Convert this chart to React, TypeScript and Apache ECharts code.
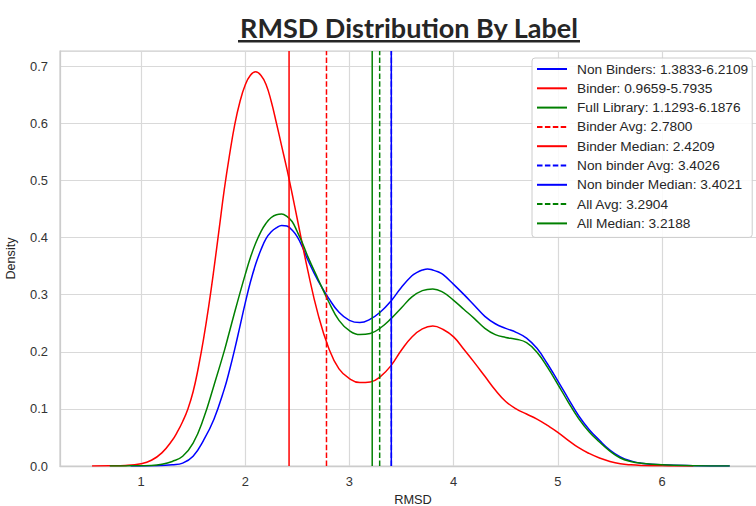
import { useEffect, useRef } from "react";
import * as echarts from "echarts";

// KDE curves of RMSD per label (x = RMSD, y = density)
const nonBinderX = [0.9, 1.1, 1.2, 1.3, 1.4, 1.5, 1.6, 1.7, 1.8, 1.85, 1.9, 1.95, 2.0, 2.05, 2.1, 2.15, 2.2, 2.25, 2.3, 2.35, 2.4, 2.45, 2.5, 2.55, 2.6, 2.7, 2.8, 2.9, 3.0, 3.1, 3.2, 3.3, 3.4, 3.5, 3.6, 3.65, 3.7, 3.75, 3.8, 3.85, 3.9, 4.0, 4.1, 4.2, 4.3, 4.4, 4.5, 4.6, 4.7, 4.8, 4.9, 5.0, 5.1, 5.2, 5.3, 5.4, 5.5, 5.6, 5.7, 5.8, 6.0, 6.3, 6.65];
const nonBinderY = [0, 0.0004, 0.001, 0.002, 0.005, 0.017, 0.045, 0.082, 0.135, 0.168, 0.205, 0.245, 0.285, 0.322, 0.353, 0.378, 0.398, 0.41, 0.417, 0.421, 0.42, 0.413, 0.401, 0.383, 0.361, 0.324, 0.294, 0.269, 0.255, 0.251, 0.257, 0.27, 0.289, 0.313, 0.333, 0.339, 0.343, 0.345, 0.343, 0.34, 0.335, 0.318, 0.3, 0.281, 0.262, 0.249, 0.241, 0.234, 0.224, 0.206, 0.179, 0.149, 0.118, 0.088, 0.064, 0.045, 0.028, 0.016, 0.009, 0.005, 0.002, 0.0005, 0];

const binderX = [0.53, 0.7, 0.85, 1.0, 1.1, 1.2, 1.3, 1.35, 1.4, 1.45, 1.5, 1.55, 1.6, 1.65, 1.7, 1.75, 1.8, 1.85, 1.9, 1.95, 2.0, 2.05, 2.1, 2.15, 2.2, 2.25, 2.3, 2.35, 2.4, 2.45, 2.5, 2.6, 2.7, 2.8, 2.9, 3.0, 3.1, 3.2, 3.3, 3.4, 3.5, 3.6, 3.7, 3.8, 3.9, 4.0, 4.1, 4.2, 4.3, 4.4, 4.5, 4.6, 4.7, 4.8, 4.9, 5.0, 5.1, 5.2, 5.3, 5.4, 5.5, 5.6, 5.7, 5.8, 6.0, 6.3];
const binderY = [0, 0.0003, 0.001, 0.004, 0.01, 0.023, 0.045, 0.06, 0.078, 0.1, 0.13, 0.172, 0.222, 0.28, 0.345, 0.415, 0.485, 0.545, 0.598, 0.638, 0.667, 0.684, 0.69, 0.684, 0.668, 0.638, 0.6, 0.56, 0.52, 0.477, 0.432, 0.343, 0.265, 0.207, 0.17, 0.153, 0.146, 0.147, 0.157, 0.176, 0.203, 0.226, 0.24, 0.245, 0.239, 0.226, 0.204, 0.181, 0.157, 0.133, 0.113, 0.1, 0.091, 0.082, 0.071, 0.059, 0.045, 0.032, 0.022, 0.014, 0.008, 0.004, 0.002, 0.001, 0.0003, 0];

const libraryX = [0.7, 0.9, 1.1, 1.2, 1.3, 1.4, 1.5, 1.6, 1.7, 1.8, 1.85, 1.9, 1.95, 2.0, 2.05, 2.1, 2.15, 2.2, 2.25, 2.3, 2.35, 2.4, 2.45, 2.5, 2.55, 2.6, 2.7, 2.8, 2.9, 3.0, 3.1, 3.2, 3.3, 3.4, 3.5, 3.6, 3.7, 3.8, 3.9, 4.0, 4.1, 4.2, 4.3, 4.4, 4.5, 4.6, 4.7, 4.8, 4.9, 5.0, 5.1, 5.2, 5.3, 5.4, 5.5, 5.6, 5.7, 5.8, 6.0, 6.3, 6.65];
const libraryY = [0, 0.0003, 0.001, 0.003, 0.008, 0.017, 0.04, 0.083, 0.141, 0.202, 0.236, 0.27, 0.303, 0.335, 0.365, 0.39, 0.41, 0.425, 0.435, 0.44, 0.441, 0.437, 0.428, 0.41, 0.39, 0.367, 0.327, 0.288, 0.255, 0.237, 0.23, 0.232, 0.242, 0.258, 0.277, 0.296, 0.307, 0.31, 0.304, 0.29, 0.274, 0.258, 0.241, 0.23, 0.225, 0.222, 0.216, 0.199, 0.173, 0.143, 0.112, 0.083, 0.06, 0.042, 0.026, 0.014, 0.008, 0.005, 0.002, 0.0005, 0];

// Summary statistics
const binderAvg = 2.78;
const binderMedian = 2.4209;
const nonBinderAvg = 3.4026;
const nonBinderMedian = 3.4021;
const allAvg = 3.2904;
const allMedian = 3.2188;

const legendNames = [
  "Non Binders: 1.3833-6.2109",
  "Binder: 0.9659-5.7935",
  "Full Library: 1.1293-6.1876",
  "Binder Avg: 2.7800",
  "Binder Median: 2.4209",
  "Non binder Avg: 3.4026",
  "Non binder Median: 3.4021",
  "All Avg: 3.2904",
  "All Median: 3.2188",
];

const xTicks = [1, 2, 3, 4, 5, 6];

const X_MIN = 0.2226;
const X_MAX = 6.998;
const Y_MAX = 0.7265;

const BLUE = "#0000ff";
const RED = "#ff0000";
const GREEN = "#008000";
const DASH = [5.5, 2.4];
const FONT = "'Liberation Sans', Arial, sans-serif";

function kde(name: string, xs: number[], ys: number[], color: string) {
  return {
    type: "line",
    name,
    data: xs.map((x, i) => [x, ys[i]]),
    symbol: "none",
    showSymbol: false,
    smooth: 0.45,
    lineStyle: { color, width: 1.5 },
    itemStyle: { color },
    z: 2,
  };
}

function vline(name: string, v: number, color: string, dashed: boolean) {
  return {
    type: "line",
    name,
    data: [
      [v, 0],
      [v, Y_MAX],
    ],
    symbol: "none",
    showSymbol: false,
    lineStyle: { color, width: 1.5, type: dashed ? DASH : "solid" },
    itemStyle: { color },
    z: 3,
  };
}

export default function App() {
  const ref = useRef<HTMLDivElement>(null);

  useEffect(() => {
    if (!ref.current) return;
    const chart = echarts.init(ref.current, null, { renderer: "svg" });
    chart.setOption({
      animation: false,
      backgroundColor: "#ffffff",
      // the plot box runs past the right edge of the canvas
      grid: {
        left: 60,
        top: 51,
        width: 706,
        height: 415,
        outerBoundsMode: "none",
        containLabel: false,
        show: true,
        borderColor: "#cccccc",
        borderWidth: 1.25,
        backgroundColor: "#ffffff",
      },
      graphic: [
        {
          type: "text",
          x: 409,
          y: 27,
          z: 10,
          style: {
            text: "RMSD Distribution By Label",
            font: "bold 27px Lato, 'Open Sans', sans-serif",
            fill: "#262626",
            textAlign: "center",
            textVerticalAlign: "middle",
          },
        },
        {
          type: "rect",
          z: 10,
          shape: { x: 238, y: 40, width: 342, height: 2.6 },
          style: { fill: "#262626" },
        },
      ],
      legend: {
        orient: "vertical",
        left: 532,
        top: 58,
        itemWidth: 30,
        itemHeight: 14,
        itemGap: 5.3,
        padding: [4, 4, 7, 4],
        backgroundColor: "rgba(255,255,255,0.85)",
        borderColor: "#cccccc",
        borderWidth: 1,
        borderRadius: 3,
        data: legendNames,
        itemStyle: { opacity: 0, borderWidth: 0 },
        textStyle: {
          fontFamily: FONT,
          fontSize: 13.7,
          lineHeight: 14,
          color: "#262626",
          padding: [0, 0, 0, 5],
        },
      },
      xAxis: {
        type: "value",
        min: X_MIN,
        max: X_MAX,
        name: "RMSD",
        nameLocation: "middle",
        nameGap: 25,
        nameTextStyle: { fontFamily: FONT, fontSize: 12.8, color: "#262626" },
        axisLine: { show: true, lineStyle: { color: "#cccccc", width: 1.25 } },
        axisTick: { show: false, customValues: xTicks },
        axisLabel: {
          customValues: xTicks,
          margin: 9,
          fontFamily: FONT,
          fontSize: 12.9,
          color: "#333333",
        },
        splitLine: { show: true, lineStyle: { color: "#d9d9d9", width: 1.2 } },
      },
      yAxis: {
        type: "value",
        min: 0,
        max: Y_MAX,
        interval: 0.1,
        name: "Density",
        nameLocation: "middle",
        nameGap: 43,
        nameRotate: 90,
        nameTextStyle: { fontFamily: FONT, fontSize: 12.6, color: "#262626" },
        axisLine: { show: true, lineStyle: { color: "#cccccc", width: 1.25 } },
        axisTick: { show: false },
        axisLabel: {
          margin: 12,
          showMaxLabel: false,
          fontFamily: FONT,
          fontSize: 12.9,
          color: "#333333",
          formatter: (v: number) => v.toFixed(1),
        },
        splitLine: { show: true, lineStyle: { color: "#d9d9d9", width: 1.2 } },
      },
      series: [
        kde(legendNames[0], nonBinderX, nonBinderY, BLUE),
        kde(legendNames[1], binderX, binderY, RED),
        kde(legendNames[2], libraryX, libraryY, GREEN),
        vline(legendNames[3], binderAvg, RED, true),
        vline(legendNames[4], binderMedian, RED, false),
        vline(legendNames[5], nonBinderAvg, BLUE, true),
        vline(legendNames[6], nonBinderMedian, BLUE, false),
        vline(legendNames[7], allAvg, GREEN, true),
        vline(legendNames[8], allMedian, GREEN, false),
      ],
    });
    return () => chart.dispose();
  }, []);

  return <div ref={ref} style={{ width: 756, height: 506, position: "absolute", left: 0, top: 0 }} />;
}
